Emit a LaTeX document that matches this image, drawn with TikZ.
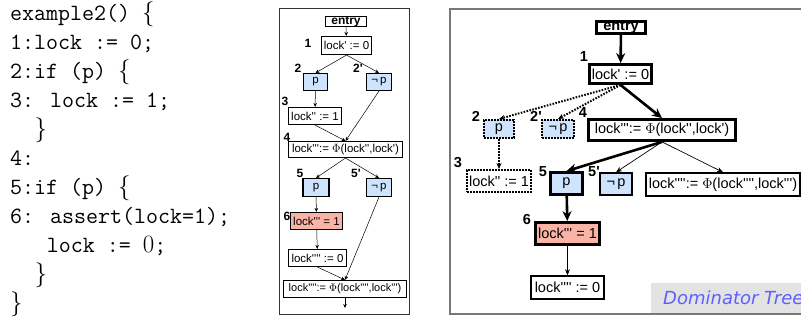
\documentclass[tikz,border=0pt]{standalone}
\usepackage{fontspec}
\newfontfamily\helv{Liberation Sans}
\newfontfamily\domfont{DejaVu Sans}[ItalicFont={DejaVu Sans Oblique}]
\usetikzlibrary{arrows.meta}
\definecolor{bluef}{RGB}{206,228,252}
\definecolor{redf}{RGB}{249,180,166}
\definecolor{domblue}{RGB}{95,95,255}
\definecolor{framegray}{RGB}{120,120,120}
\begin{document}
\begin{tikzpicture}[x=1pt,y=-1pt,
  codeln/.style={anchor=base west, inner sep=0pt, font=\ttfamily\fontsize{23.3}{28}\selectfont},
  mb/.style={draw, line width=1.1pt, inner sep=0pt, font=\helv\fontsize{11.5}{13}\selectfont},
  mlab/.style={font=\helv\bfseries\fontsize{12}{13}\selectfont, inner sep=0pt},
  marr/.style={-{Stealth[length=4pt,width=3.5pt]}, line width=0.5pt},
  rb/.style={draw, inner sep=0pt, font=\helv\fontsize{14.5}{16}\selectfont},
  rthick/.style={rb, line width=2.8pt},
  rthin/.style={rb, line width=1.5pt},
  rdot/.style={rb, line width=2pt, dash pattern=on 1.6pt off 1.4pt},
  rlab/.style={font=\helv\bfseries\fontsize{14.5}{16}\selectfont, inner sep=0pt},
  rthickarr/.style={-{Stealth[length=10pt,width=9pt]}, line width=2.6pt},
  rthinarr/.style={-{Stealth[length=6pt,width=5pt]}, line width=0.7pt},
  rdotarr/.style={-{Stealth[length=6pt,width=5pt]}, line width=2pt, dash pattern=on 1.6pt off 1.4pt},
  bluebox/.style={fill=bluef},
  redbox/.style={fill=redf}]
\useasboundingbox (0,0) rectangle (801,320);
\fill[white] (0,0) rectangle (801,320);

% ---------- code ----------
\node[codeln] (c1)  at (10,21)  {example2() $\{$};
\node[codeln] (c2)  at (10,50)  {1:lock := 0;};
\node[codeln] (c3)  at (10,79)  {2:if (p) $\{$};
\node[codeln] (c4)  at (10,108) {3: lock := 1;};
\node[codeln] (c5)  at (34.5,137) {$\}$};
\node[codeln] (c6)  at (10,166) {4:};
\node[codeln] (c7)  at (10,195) {5:if (p) $\{$};
\node[codeln] (c8)  at (10,224) {6: assert(lock=1);};
\node[codeln] (c9)  at (46.7,253) {lock := $0$;};
\node[codeln] (c10) at (34.5,282) {$\}$};
\node[codeln] (c11) at (10,311) {$\}$};

% ---------- middle panel (CFG) ----------
\draw[line width=0.9pt, black!80] (279,8) rectangle (409,314);

\node[mb, minimum width=41pt, minimum height=10pt, font=\helv\bfseries\fontsize{12}{13}\selectfont] (m0) at (346,21.5) {entry};
\node[mb, minimum width=50pt, minimum height=18pt] (m1) at (346.5,45.5) {lock' := 0};
\node[mb, bluebox, minimum width=24pt, minimum height=17pt] (m2) at (315.5,82) {p};
\node[mb, bluebox, minimum width=25pt, minimum height=17pt] (m2b) at (379,82) {¬\,p};
\node[mb, minimum width=53pt, minimum height=17pt] (m3) at (315,116) {lock'' := 1};
\node[mb, minimum width=114pt, minimum height=16pt] (m4) at (345.5,149.5) {lock''':= $\Phi$(lock'',lock')};
\node[mb, bluebox, minimum width=26pt, minimum height=18pt] (m5) at (316,187.5) {p};
\node[mb, bluebox, minimum width=25pt, minimum height=18pt] (m5b) at (379,187.5) {¬\,p};
\node[mb, redbox, minimum width=52pt, minimum height=17pt] (m6) at (316.5,221) {lock''' = 1};
\node[mb, minimum width=58pt, minimum height=17pt] (m7) at (317.5,258) {lock'''' := 0};
\node[mb, minimum width=123pt, minimum height=17pt, font=\helv\fontsize{11}{13}\selectfont] (m8) at (345,289) {lock'''':= $\Phi$(lock'''',lock''')};
\coordinate (mexit) at (345,308);

\node[mlab] (ml1) at (308,43) {1};
\node[mlab] (ml2) at (298,68) {2};
\node[mlab] (ml2b) at (358,68) {2'};
\node[mlab] (ml3) at (285,101) {3};
\node[mlab] (ml4) at (287,137) {4};
\node[mlab] (ml5) at (300,173) {5};
\node[mlab] (ml5b) at (356,173) {5'};
\node[mlab] (ml6) at (287,216) {6};

\draw[marr] (m0) -- (m1);
\draw[marr] (m1.south) -- (m2.north);
\draw[marr] (m1.south) -- (m2b.north);
\draw[marr] (m2) -- (m3);
\draw[marr] (m3.south) -- (m4.north);
\draw[marr] (m2b.south) -- (m4.north);
\draw[marr] (m4.south) -- (m5.north);
\draw[marr] (m4.south) -- (m5b.north);
\draw[marr] (m5) -- (m6);
\draw[marr] (m6) -- (m7);
\draw[marr] (m7.south) -- (m8.north);
\draw[marr] (m5b.south) -- (m8.north);
\draw[marr] (m8) -- (mexit);

% ---------- right panel (dominator tree) ----------
\draw[line width=2pt, framegray] (450,9) rectangle (806,314);
\fill[black!11] (651,283) rectangle (805,313);
\node[anchor=base west, inner sep=0pt, text=domblue, font=\domfont\itshape\fontsize{18}{20}\selectfont] (dom) at (663,305) {Dominator Tree};

\node[rthick, minimum width=49pt, minimum height=12pt, font=\helv\bfseries\fontsize{14.5}{16}\selectfont] (r0) at (621,27.5) {entry};
\node[rthick, minimum width=62pt, minimum height=19pt] (r1) at (620.5,74) {lock' := 0};
\node[rdot, bluebox, minimum width=30pt, minimum height=18pt] (r2) at (499,129) {p};
\node[rdot, bluebox, minimum width=32pt, minimum height=18pt] (r2b) at (558,129) {¬\,p};
\node[rthick, minimum width=147pt, minimum height=21pt] (r4) at (662,130) {lock''':= $\Phi$(lock'',lock')};
\node[rdot, minimum width=64pt, minimum height=22pt] (r3) at (499,181) {lock'' := 1};
\node[rthick, bluebox, minimum width=32pt, minimum height=22pt] (r5) at (566.5,183.5) {p};
\node[rthin, bluebox, minimum width=32pt, minimum height=22pt] (r5b) at (616,184) {¬\,p};
\node[rthin, minimum width=154pt, minimum height=23pt] (r8) at (723,184.5) {lock'''':= $\Phi$(lock'''',lock''')};
\node[rthick, redbox, minimum width=64pt, minimum height=22pt] (r6) at (567.5,233.5) {lock''' = 1};
\node[rthin, minimum width=73pt, minimum height=23pt] (r7) at (567.5,287.5) {lock'''' := 0};

\node[rlab] (rl1) at (584,57) {1};
\node[rlab] (rl2) at (476,116) {2};
\node[rlab] (rl2b) at (536,116) {2'};
\node[rlab] (rl4) at (583,113) {4};
\node[rlab] (rl3) at (458,163) {3};
\node[rlab] (rl5) at (543,172) {5};
\node[rlab] (rl5b) at (594,172) {5'};
\node[rlab] (rl6) at (527,220) {6};

\draw[rthickarr] (r0) -- (r1);
\draw[rdotarr] (r1.south) -- (r2.north);
\draw[rdotarr] (r1.south) -- (r2b.north);
\draw[rthickarr] (r1.south) -- (r4.north);
\draw[rdotarr] (r2) -- (r3);
\draw[rthickarr] (r4.south) -- (r5.north);
\draw[rthinarr] (r4.south) -- (r5b.north);
\draw[rthinarr] (r4.south) -- (r8.north);
\draw[rthickarr] (r5) -- (r6);
\draw[rthinarr] (r6) -- (r7);
\end{tikzpicture}
\end{document}
